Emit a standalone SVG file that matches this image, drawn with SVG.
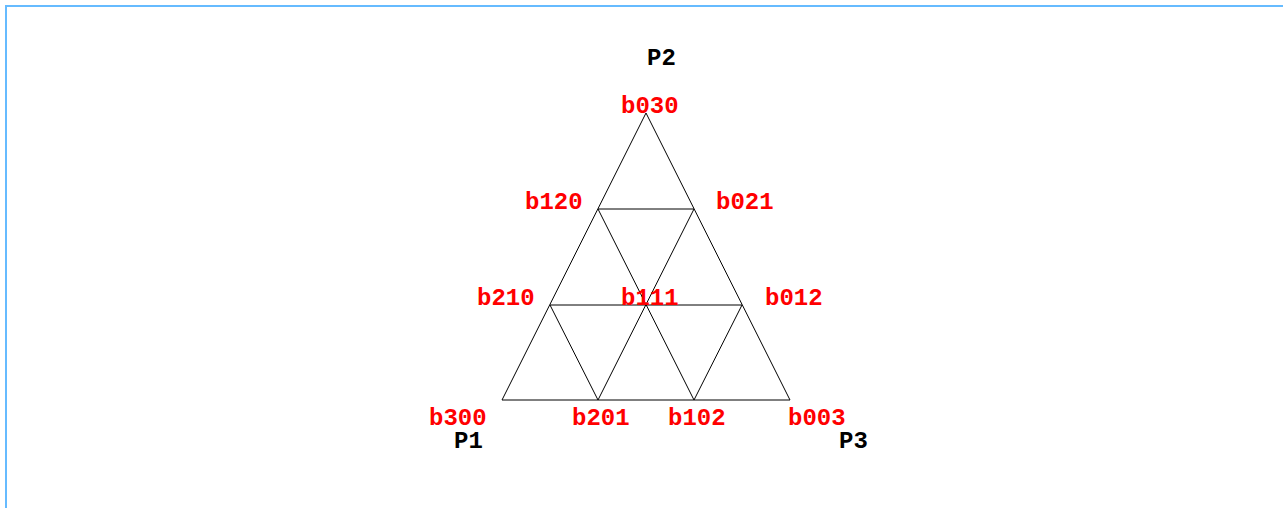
<svg xmlns="http://www.w3.org/2000/svg" width="1283" height="508" viewBox="0 0 1283 508">
<style>
.edge{stroke:#000;stroke-width:1;fill:none}
.cp{font-family:"Liberation Mono","Courier New",monospace;font-weight:bold;font-size:24px;fill:#ff0000}
.pt{font-family:"Liberation Mono","Courier New",monospace;font-weight:bold;font-size:24px;fill:#000}
</style>
<rect x="0" y="0" width="1283" height="508" fill="#fff"/>
<path d="M6,508 V6 H1283" fill="none" stroke="#66bbff" stroke-width="2"/>
<g id="connectors">
<line class="edge" x1="502" y1="400" x2="790" y2="400"/>
<line class="edge" x1="502" y1="400" x2="646" y2="113"/>
<line class="edge" x1="790" y1="400" x2="646" y2="113"/>
<line class="edge" x1="598" y1="209" x2="694" y2="209"/>
<line class="edge" x1="550" y1="305" x2="742" y2="305"/>
<line class="edge" x1="598" y1="209" x2="694" y2="400"/>
<line class="edge" x1="550" y1="305" x2="598" y2="400"/>
<line class="edge" x1="694" y1="209" x2="598" y2="400"/>
<line class="edge" x1="742" y1="305" x2="694" y2="400"/>
</g>
<g id="P2"><text class="pt" x="647" y="65">P2</text></g>
<g id="P1"><text class="pt" x="454" y="448">P1</text></g>
<g id="P3"><text class="pt" x="839" y="448">P3</text></g>
<g id="b030"><text class="cp" x="621" y="113">b030</text></g>
<g id="b120"><text class="cp" x="525" y="209">b120</text></g>
<g id="b021"><text class="cp" x="716" y="209">b021</text></g>
<g id="b210"><text class="cp" x="477" y="305">b210</text></g>
<g id="b111"><text class="cp" x="621" y="305">b111</text></g>
<g id="b012"><text class="cp" x="765" y="305">b012</text></g>
<g id="b300"><text class="cp" x="429" y="425">b300</text></g>
<g id="b201"><text class="cp" x="572" y="425">b201</text></g>
<g id="b102"><text class="cp" x="668" y="425">b102</text></g>
<g id="b003"><text class="cp" x="788" y="425">b003</text></g>
</svg>
